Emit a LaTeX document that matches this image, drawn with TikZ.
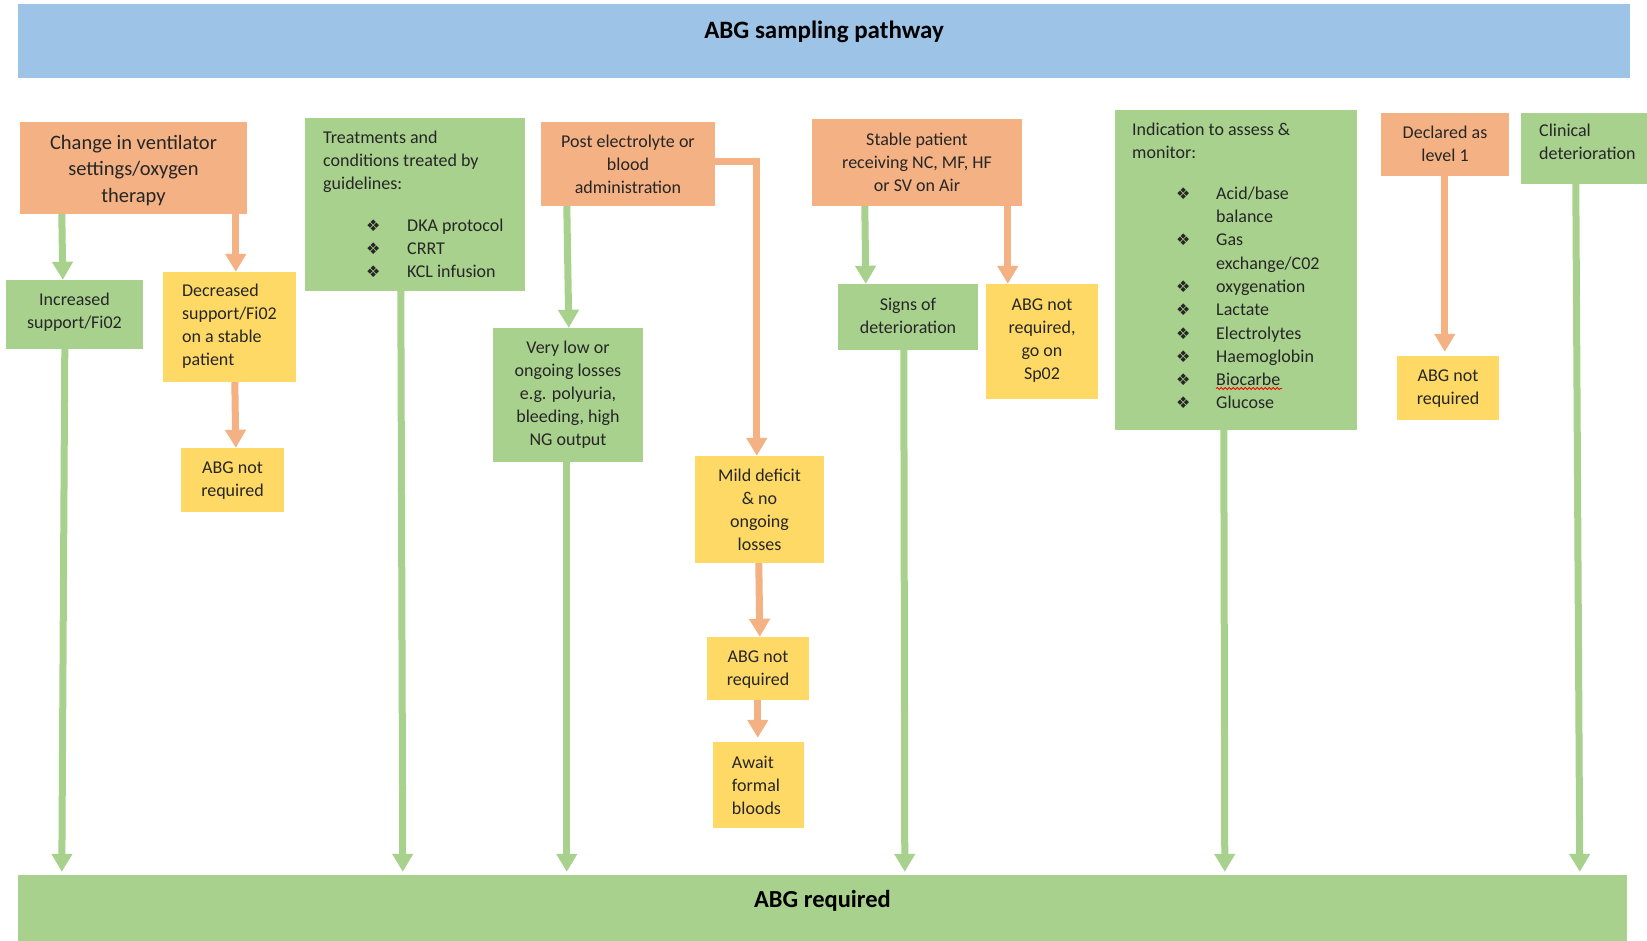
\documentclass[tikz,border=0pt]{standalone}
\usepackage{fontspec}
\setmainfont{Carlito}
\newfontfamily\dejavu{DejaVu Sans}
\usetikzlibrary{arrows.meta,decorations.pathmorphing}
\definecolor{gfill}{HTML}{A9D18E}
\definecolor{ofill}{HTML}{F4B183}
\definecolor{yfill}{HTML}{FFD966}
\definecolor{bfill}{HTML}{9DC3E6}
\definecolor{txtc}{HTML}{262626}
\newcommand{\bul}{\makebox[20pt]{\dejavu\fontsize{16}{16}\selectfont ❖}}
\begin{document}
\begin{tikzpicture}[x=1pt,y=-1pt,
  box/.style={inner sep=0pt},
  gbox/.style={box, fill=gfill},
  obox/.style={box, fill=ofill},
  ybox/.style={box, fill=yfill},
  txt/.style={inner sep=0pt, text=txtc, font=\fontsize{18}{23}\selectfont,
    execute at begin node=\strut, execute at end node=\strut},
  bt/.style={txt, align=center},
  lst/.style={inner sep=0pt, text=txtc, anchor=north west},
  garr/.style={draw=gfill, line width=7pt, -{Triangle[length=18pt,width=20pt]}},
  oarr/.style={draw=ofill, line width=7pt, -{Triangle[length=18pt,width=20pt]}},
  tobar/.style={shorten >=3pt}
]
\useasboundingbox (0,0) rectangle (1647,940);
\fill[white] (0,0) rectangle (1647,940);
\clip (0,0) rectangle (1647,940);

% bars
\node[fill=bfill, minimum width=1612pt, minimum height=74pt, inner sep=0pt] (titlebar) at (824,41) {};
\node[anchor=base, text=black, inner sep=0pt, font=\fontsize{25}{30}\selectfont\bfseries] (titletext) at (824,38) {ABG sampling pathway};
\node[fill=gfill, minimum width=1609pt, minimum height=70pt, inner sep=0pt] (abgreq) at (822.5,910) {};
\node[anchor=base, text=black, inner sep=0pt, font=\fontsize{24.5}{30}\selectfont\bfseries] (abgreqtext) at (822.5,907) {ABG required};

% column 1
\node[obox, minimum width=227pt, minimum height=92pt] (change) at (133.5,168) {};
\node[bt, font=\fontsize{20.5}{26.5}\selectfont] (changet) at ([yshift=-4.5pt]change.center) {Change in ventilator\\settings/oxygen\\therapy};
\node[gbox, minimum width=137pt, minimum height=69pt] (incr) at (74.5,314.5) {};
\node[bt] (incrt) at (incr.center) {Increased\\support/Fi02};
\node[ybox, minimum width=133pt, minimum height=110pt] (decr) at (229.5,327) {};
\node[bt, align=left] (decrt) at ([yshift=-1.5pt]decr.center) {Decreased\\support/Fi02\\on a stable\\patient};
\node[ybox, minimum width=103pt, minimum height=64pt] (abg1) at (232.5,480) {};
\node[bt] (abg1t) at ([yshift=-3pt]abg1.center) {ABG not\\required};

% column 2
\node[gbox, minimum width=220pt, minimum height=173pt] (treat) at (415,204.5) {};
\node[txt, align=left, anchor=north west] (treath) at (323,131) {Treatments and\\conditions treated by\\guidelines:};
\node[lst, font=\fontsize{18}{23}\selectfont] (treatl) at (363,214.7) {\begin{tabular}{@{}c@{\hspace{24pt}}l@{}}\bul & DKA protocol\\ \bul & CRRT\\ \bul & KCL infusion\end{tabular}};

% column 3
\node[obox, minimum width=174pt, minimum height=84pt] (post) at (628,164) {};
\node[bt] (postt) at ([yshift=-3.5pt]post.center) {Post electrolyte or\\blood\\administration};
\node[gbox, minimum width=150pt, minimum height=134pt] (verylow) at (568,395) {};
\node[bt] (verylowt) at ([yshift=-2pt]verylow.center) {Very low or\\ongoing losses\\e.g. polyuria,\\bleeding, high\\NG output};
\node[ybox, minimum width=129pt, minimum height=107pt] (mild) at (759.5,509.5) {};
\node[bt] (mildt) at ([yshift=-3.5pt]mild.center) {Mild deficit\\\& no\\ongoing\\losses};
\node[ybox, minimum width=102pt, minimum height=63pt] (abg3) at (758,668.5) {};
\node[bt] (abg3t) at ([yshift=-3.5pt]abg3.center) {ABG not\\required};
\node[ybox, minimum width=91pt, minimum height=86pt] (await) at (758.5,785) {};
\node[bt, align=left] (awaitt) at ([yshift=-3.5pt, xshift=-2pt]await.center) {Await\\formal\\bloods};

% column 4
\node[obox, minimum width=210pt, minimum height=87pt] (stable) at (917,162.5) {};
\node[bt] (stablet) at ([yshift=-3pt]stable.center) {Stable patient\\receiving NC, MF, HF\\or SV on Air};
\node[gbox, minimum width=140pt, minimum height=66pt] (signs) at (908,317) {};
\node[bt] (signst) at ([yshift=-2pt]signs.center) {Signs of\\deterioration};
\node[ybox, minimum width=112pt, minimum height=115pt] (abg2) at (1042,341.5) {};
\node[bt] (abg2t) at ([yshift=-1pt]abg2.center) {ABG not\\required,\\go on\\Sp02};

% column 5
\node[gbox, minimum width=242pt, minimum height=320pt] (indic) at (1236,270) {};
\node[txt, align=left, anchor=north west] (indich) at (1132,123) {Indication to assess \&\\monitor:};
\node[lst, font=\fontsize{18}{23.3}\selectfont] (indicl) at (1173,182.7) {\begin{tabular}{@{}c@{\hspace{23pt}}l@{}}\bul & Acid/base\\ & balance\\ \bul & Gas\\ & exchange/C02\\ \bul & oxygenation\\ \bul & Lactate\\ \bul & Electrolytes\\ \bul & Haemoglobin\\ \bul & Biocarbe\\ \bul & Glucose\end{tabular}};
\draw[red, line width=0.8pt, decorate, decoration={snake, amplitude=1.1pt, segment length=4pt}] (1216,388.5) -- (1282,388.5);

% column 6
\node[obox, minimum width=128pt, minimum height=63pt] (declared) at (1445,144.5) {};
\node[bt] (declaredt) at ([yshift=-3pt]declared.center) {Declared as\\level 1};
\node[ybox, minimum width=102pt, minimum height=64pt] (abg4) at (1448,388) {};
\node[bt] (abg4t) at ([yshift=-3pt]abg4.center) {ABG not\\required};

% column 7
\node[gbox, minimum width=139pt, minimum height=71pt] (clinical) at (1590.5,148.5) {};
\node[txt, align=left, anchor=north west] (clinicalt) at (1539,124) {Clinical\\deterioration};

% connectors
\draw[garr] ([xshift=42pt]change.south west) -- ([xshift=57pt]incr.north west);
\draw[oarr] ([xshift=216pt]change.south west) -- ([xshift=73pt]decr.north west);
\draw[oarr] ([xshift=72pt]decr.south west) -- ([xshift=55pt]abg1.north west);
\draw[garr, tobar] ([xshift=59pt]incr.south west) -- ([xshift=44pt]abgreq.north west);
\draw[garr, tobar] ([xshift=96pt]treat.south west) -- ([xshift=385pt]abgreq.north west);
\draw[garr] ([xshift=26pt]post.south west) -- ([xshift=76pt]verylow.north west);
\draw[oarr] ([yshift=3pt]post.east) -| ([xshift=62pt]mild.north west);
\draw[garr, tobar] ([xshift=74pt]verylow.south west) -- ([xshift=549pt]abgreq.north west);
\draw[oarr] ([xshift=64pt]mild.south west) -- ([xshift=53pt]abg3.north west);
\draw[oarr, shorten >=4pt] ([xshift=51pt]abg3.south west) -- ([xshift=45pt]await.north west);
\draw[garr] ([xshift=53pt]stable.south west) -- ([xshift=28pt]signs.north west);
\draw[oarr] ([xshift=196pt]stable.south west) -- ([xshift=22pt]abg2.north west);
\draw[garr, tobar] ([xshift=66pt]signs.south west) -- ([xshift=887pt]abgreq.north west);
\draw[garr, tobar] ([xshift=109pt]indic.south west) -- ([xshift=1207pt]abgreq.north west);
\draw[oarr, shorten >=4pt] ([xshift=64pt]declared.south west) -- ([xshift=48pt]abg4.north west);
\draw[garr, tobar] ([xshift=55pt]clinical.south west) -- ([xshift=1562pt]abgreq.north west);
\end{tikzpicture}
\end{document}
